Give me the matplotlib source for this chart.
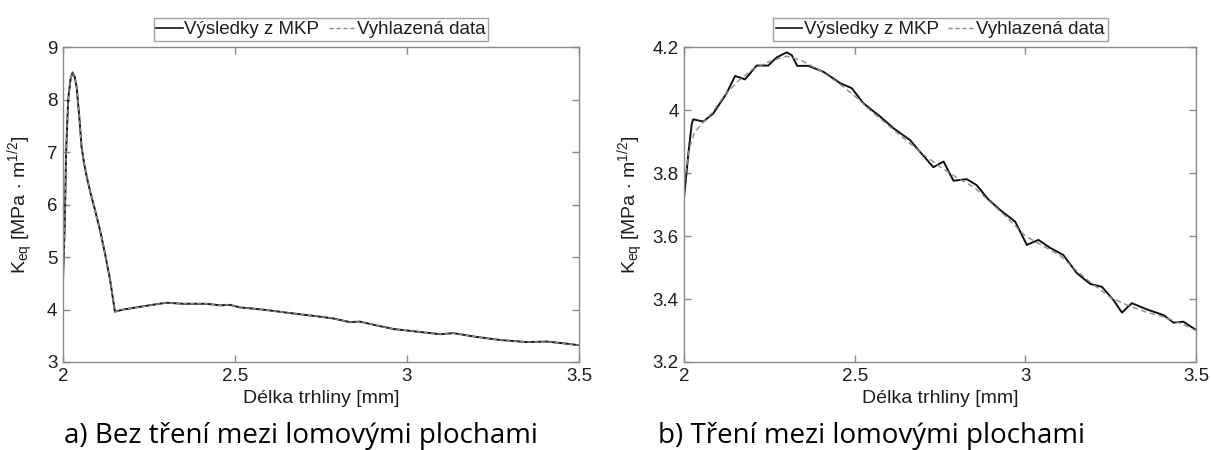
import matplotlib
matplotlib.use("Agg")
import matplotlib.pyplot as plt
from matplotlib.lines import Line2D

plt.rcParams["font.family"] = ["Liberation Sans", "DejaVu Sans"]
plt.rcParams["mathtext.default"] = "regular"

# ---- data: a) without friction between fracture surfaces ----
x_a = [2.000, 2.005, 2.009, 2.015, 2.022, 2.028, 2.034, 2.040, 2.047, 2.054,
       2.061, 2.069, 2.080, 2.093, 2.108, 2.122, 2.137, 2.151, 2.175, 2.204,
       2.250, 2.301, 2.350, 2.418, 2.456, 2.485, 2.515, 2.550, 2.592, 2.640,
       2.689, 2.740, 2.786, 2.834, 2.863, 2.910, 2.960, 3.000, 3.028, 3.096,
       3.135, 3.200, 3.270, 3.348, 3.406, 3.450, 3.500]
k_a_mkp = [4.56, 5.60, 6.98, 8.00, 8.40, 8.52, 8.44, 8.22, 7.70, 7.10,
           6.80, 6.53, 6.22, 5.90, 5.50, 5.07, 4.56, 3.96, 4.00, 4.03,
           4.08, 4.13, 4.11, 4.11, 4.08, 4.09, 4.04, 4.02, 3.99, 3.95,
           3.91, 3.87, 3.83, 3.76, 3.77, 3.70, 3.63, 3.60, 3.58, 3.53,
           3.55, 3.48, 3.42, 3.38, 3.39, 3.36, 3.32]
k_a_smooth = [4.56, 5.60, 6.98, 8.00, 8.40, 8.52, 8.44, 8.22, 7.70, 7.10,
              6.80, 6.53, 6.22, 5.90, 5.50, 5.07, 4.56, 3.96, 4.00, 4.03,
              4.08, 4.13, 4.11, 4.11, 4.08, 4.09, 4.04, 4.02, 3.99, 3.95,
              3.91, 3.87, 3.83, 3.76, 3.77, 3.70, 3.63, 3.60, 3.58, 3.53,
              3.55, 3.48, 3.42, 3.38, 3.39, 3.36, 3.32]

# ---- data: b) with friction between fracture surfaces ----
x_b = [2.000, 2.012, 2.022, 2.026, 2.056, 2.085, 2.124, 2.149, 2.178, 2.212,
       2.246, 2.271, 2.300, 2.315, 2.331, 2.364, 2.408, 2.457, 2.491, 2.525,
       2.574, 2.613, 2.662, 2.686, 2.730, 2.760, 2.789, 2.828, 2.857, 2.891,
       2.926, 2.970, 3.004, 3.038, 3.072, 3.111, 3.151, 3.190, 3.224, 3.258,
       3.283, 3.312, 3.356, 3.405, 3.434, 3.463, 3.500]
k_b_mkp = [3.730, 3.863, 3.958, 3.971, 3.964, 3.990, 4.054, 4.109, 4.098, 4.142,
           4.142, 4.168, 4.184, 4.175, 4.141, 4.141, 4.122, 4.086, 4.070, 4.022,
           3.980, 3.943, 3.905, 3.874, 3.819, 3.837, 3.776, 3.781, 3.762, 3.717,
           3.683, 3.646, 3.572, 3.588, 3.563, 3.540, 3.482, 3.448, 3.439, 3.397,
           3.357, 3.387, 3.367, 3.349, 3.325, 3.328, 3.302]

x_b_smooth = [2.000, 2.015, 2.030, 2.050, 2.080, 2.120, 2.160, 2.200, 2.250, 2.300,
              2.340, 2.400, 2.450, 2.500, 2.550, 2.600, 2.650, 2.700, 2.750, 2.800,
              2.850, 2.900, 2.950, 3.000, 3.050, 3.100, 3.150, 3.200, 3.250, 3.300,
              3.350, 3.400, 3.450, 3.500]
k_b_smooth = [3.770, 3.880, 3.930, 3.955, 3.990, 4.050, 4.095, 4.130, 4.155, 4.172,
              4.160, 4.125, 4.088, 4.045, 3.995, 3.950, 3.905, 3.860, 3.820, 3.785,
              3.755, 3.705, 3.655, 3.600, 3.570, 3.540, 3.490, 3.445, 3.405, 3.380,
              3.360, 3.345, 3.325, 3.300]

x_ticks = [2, 2.5, 3, 3.5]
x_tick_labels = ["2", "2.5", "3", "3.5"]
y_ticks_a = [3, 4, 5, 6, 7, 8, 9]
y_tick_labels_a = ["3", "4", "5", "6", "7", "8", "9"]
y_ticks_b = [3.2, 3.4, 3.6, 3.8, 4.0, 4.2]
y_tick_labels_b = ["3.2", "3.4", "3.6", "3.8", "4", "4.2"]

series_labels = ["Výsledky z MKP", "Vyhlazená data"]
x_label = "Délka trhliny [mm]"
y_label = "K$_{eq}$ [MPa $\\cdot$ m$^{1/2}$]"
captions = ["a) Bez tření mezi lomovými plochami", "b) Tření mezi lomovými plochami"]

W, H = 1211, 450
fig = plt.figure(figsize=(W / 100, H / 100), dpi=100)

frame_col = "#8a8a8a"
text_col = "#1e1e1e"


def px_axes(x0, x1, y_top, y_bot):
    return fig.add_axes([x0 / W, 1 - y_bot / H, (x1 - x0) / W, (y_bot - y_top) / H])


def style(ax, yt, ytl, ylim, ylab_x):
    ax.set_xlim(2, 3.5)
    ax.set_ylim(*ylim)
    ax.set_xticks(x_ticks)
    ax.set_xticklabels(x_tick_labels)
    ax.set_yticks(yt)
    ax.set_yticklabels(ytl)
    ax.tick_params(direction="in", length=5, width=1, color=frame_col,
                   top=True, right=True, labelsize=13.5, labelcolor=text_col, pad=4)
    for s in ax.spines.values():
        s.set_color(frame_col)
        s.set_linewidth(1.0)
    ax.set_xlabel(x_label, fontsize=14, color=text_col, labelpad=4)
    ax.set_ylabel(y_label, fontsize=14, color=text_col)
    ax.yaxis.set_label_coords(ylab_x, 0.5)


ax_a = px_axes(63, 579, 47.3, 362)
ax_a.plot(x_a, k_a_mkp, color="#111111", lw=1.4, solid_joinstyle="round")
ax_a.plot(x_a, k_a_smooth, color="#8c8c8c", lw=1.0, ls=(0, (3, 2)))
style(ax_a, y_ticks_a, y_tick_labels_a, (3, 9), -0.052)

ax_b = px_axes(684.3, 1196, 47.3, 362)
ax_b.plot(x_b, k_b_mkp, color="#111111", lw=1.4, solid_joinstyle="round")
ax_b.plot(x_b_smooth, k_b_smooth, color="#8c8c8c", lw=1.0, ls=(0, (4, 2.5)))
style(ax_b, y_ticks_b, y_tick_labels_b, (3.2, 4.2), -0.074)

handles = [Line2D([], [], color="#111111", lw=1.2),
           Line2D([], [], color="#8c8c8c", lw=1.0, ls=(0, (3, 2)))]
for ax in (ax_a, ax_b):
    leg = ax.legend(handles, series_labels, ncol=2, loc="lower center",
                    bbox_to_anchor=(0.5, 1.02), frameon=True, fancybox=False,
                    fontsize=13.5, handlelength=1.4, handletextpad=0.1,
                    columnspacing=0.5, borderpad=0.15, borderaxespad=0.0)
    leg.get_frame().set_edgecolor(frame_col)
    leg.get_frame().set_linewidth(1.0)
    for t in leg.get_texts():
        t.set_color(text_col)

fig.text(301 / W, 1 - 443 / H, captions[0], fontsize=20, family=["Open Sans", "DejaVu Sans"],
         ha="center", va="baseline", color="#000000")
fig.text(872 / W, 1 - 443 / H, captions[1], fontsize=20, family=["Open Sans", "DejaVu Sans"],
         ha="center", va="baseline", color="#000000")

fig.savefig("out.png", dpi=100)
